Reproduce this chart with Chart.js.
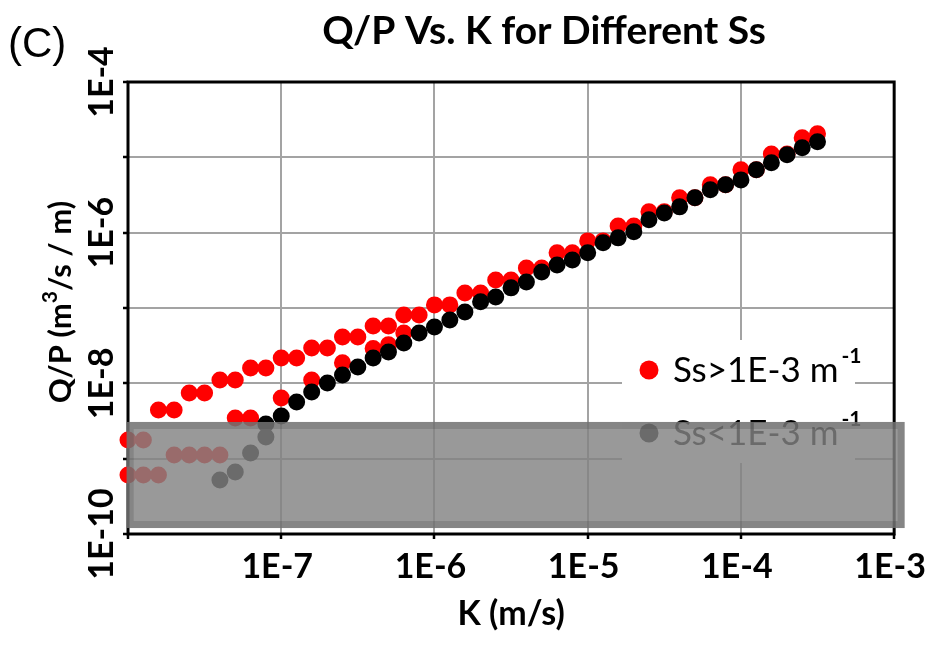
<!DOCTYPE html>
<html>
<head>
<meta charset="utf-8">
<script src="https://cdn.jsdelivr.net/npm/chart.js@4.4.1/dist/chart.umd.min.js"></script>
<style>
  html, body { margin: 0; padding: 0; background: #ffffff; }
  #wrap { width: 938px; height: 646px; }
</style>
</head>
<body>
<div id="wrap"><canvas id="chart" width="938" height="646"></canvas></div>
<script>
// Hydraulic conductivity K (m/s) and specific capacity Q/P (m^3/s/m)
// Ss > 1E-3 m^-1 (upper branch followed by the lower branch)
const kSsHigh = [
  1.00e-8, 1.26e-8, 1.58e-8, 2.00e-8, 2.51e-8, 3.16e-8, 3.98e-8, 5.01e-8, 6.31e-8, 7.94e-8,
  1.00e-7, 1.26e-7, 1.58e-7, 2.00e-7, 2.51e-7, 3.16e-7, 3.98e-7, 5.01e-7, 6.31e-7, 7.94e-7,
  1.00e-6, 1.26e-6, 1.58e-6, 2.00e-6, 2.51e-6, 3.16e-6, 3.98e-6, 5.01e-6, 6.31e-6, 7.94e-6,
  1.00e-5, 1.26e-5, 1.58e-5, 2.00e-5, 2.51e-5, 3.16e-5, 3.98e-5, 5.01e-5, 6.31e-5, 7.94e-5,
  1.00e-4, 1.26e-4, 1.58e-4, 2.00e-4, 2.51e-4, 3.16e-4,
  1.00e-8, 1.26e-8, 1.58e-8, 2.00e-8, 2.51e-8, 3.16e-8, 3.98e-8, 5.01e-8, 6.31e-8,
  1.00e-7, 1.58e-7, 2.51e-7, 3.98e-7, 5.01e-7, 6.31e-7
];
const qSsHigh = [
  1.77e-9, 1.77e-9, 4.43e-9, 4.43e-9, 7.46e-9, 7.46e-9, 1.11e-8, 1.11e-8, 1.60e-8, 1.60e-8,
  2.17e-8, 2.17e-8, 2.95e-8, 2.95e-8, 4.13e-8, 4.13e-8, 5.78e-8, 5.78e-8, 8.09e-8, 8.09e-8,
  1.10e-7, 1.10e-7, 1.58e-7, 1.58e-7, 2.36e-7, 2.36e-7, 3.40e-7, 3.40e-7, 5.40e-7, 5.40e-7,
  7.78e-7, 7.78e-7, 1.23e-6, 1.23e-6, 1.89e-6, 1.89e-6, 2.90e-6, 2.90e-6, 4.32e-6, 4.32e-6,
  6.83e-6, 6.83e-6, 1.11e-5, 1.11e-5, 1.82e-5, 2.05e-5,
  6.07e-10, 6.07e-10, 6.07e-10, 1.12e-9, 1.12e-9, 1.12e-9, 1.12e-9, 3.47e-9, 3.47e-9,
  6.40e-9, 1.11e-8, 1.87e-8, 2.90e-8, 3.24e-8, 4.67e-8
];
// Ss < 1E-3 m^-1
const kSsLow = [
  3.98e-8, 5.01e-8, 6.31e-8, 7.94e-8, 7.94e-8,
  1.00e-7, 1.26e-7, 1.58e-7, 2.00e-7, 2.51e-7, 3.16e-7, 3.98e-7, 5.01e-7, 6.31e-7, 7.94e-7,
  1.00e-6, 1.26e-6, 1.58e-6, 2.00e-6, 2.51e-6, 3.16e-6, 3.98e-6, 5.01e-6, 6.31e-6, 7.94e-6,
  1.00e-5, 1.26e-5, 1.58e-5, 2.00e-5, 2.51e-5, 3.16e-5, 3.98e-5, 5.01e-5, 6.31e-5, 7.94e-5,
  1.00e-4, 1.26e-4, 1.58e-4, 2.00e-4, 2.51e-4, 3.16e-4
];
const qSsLow = [
  5.21e-10, 6.66e-10, 1.19e-9, 1.94e-9, 2.89e-9,
  3.69e-9, 5.66e-9, 7.69e-9, 1.01e-8, 1.29e-8, 1.65e-8, 2.17e-8, 2.61e-8, 3.44e-8, 4.67e-8,
  5.61e-8, 6.95e-8, 8.87e-8, 1.21e-7, 1.40e-7, 1.85e-7, 2.22e-7, 3.01e-7, 3.73e-7, 4.35e-7,
  5.40e-7, 7.33e-7, 8.53e-7, 1.03e-6, 1.48e-6, 1.83e-6, 2.20e-6, 2.90e-6, 3.70e-6, 4.32e-6,
  5.02e-6, 6.83e-6, 8.45e-6, 1.08e-5, 1.34e-5, 1.61e-5
];

// Axis decades and the labelled ones
const xTicks = [1e-8, 1e-7, 1e-6, 1e-5, 1e-4, 1e-3];
const xLabelled = [1e-7, 1e-6, 1e-5, 1e-4, 1e-3];
const yTicks = [1e-10, 1e-9, 1e-8, 1e-7, 1e-6, 1e-5, 1e-4];
const yLabelled = [1e-10, 1e-8, 1e-6, 1e-4];

// Shaded band (in data units) below the reliable range of Q/P
const bandK = [0.98e-8, 1.17e-3];
const bandQ = [1.2e-10, 3.07e-9];

const legendItems = [
  { text: 'Ss>1E-3 m', sup: '-1', color: '#ff0000' },
  { text: 'Ss<1E-3 m', sup: '-1', color: '#000000' }
];

const FONT = 'Lato, "Open Sans", sans-serif';
const sciLabel = v => '1E' + Math.round(Math.log10(v));
const toPoints = (xs, ys) => xs.map((x, i) => ({ x: x, y: ys[i] }));

function drawParts(ctx, parts, x, y, align) {
  // parts: [{t, font, dy, gap}] drawn along one baseline
  let total = 0;
  parts.forEach(p => { ctx.font = p.font; total += ctx.measureText(p.t).width + (p.gap || 0); });
  let cx = align === 'center' ? x - total / 2 : x;
  ctx.textAlign = 'left';
  ctx.textBaseline = 'alphabetic';
  parts.forEach(p => {
    ctx.font = p.font;
    cx += (p.gap || 0);
    ctx.fillText(p.t, cx, y + (p.dy || 0));
    cx += ctx.measureText(p.t).width;
  });
}

const decorations = {
  id: 'decorations',
  beforeDatasetsDraw(chart) {
    const { ctx, chartArea: a } = chart;
    ctx.save();
    ctx.strokeStyle = '#000';
    ctx.lineWidth = 3;
    ctx.strokeRect(a.left, a.top, a.right - a.left, a.bottom - a.top);
    ctx.restore();
  },
  afterDatasetsDraw(chart) {
    const { ctx, chartArea: a, scales } = chart;
    const ys = scales.y;
    ctx.save();
    ctx.fillStyle = '#000';

    // chart title and panel letter
    ctx.font = 'bold 39px ' + FONT;
    ctx.textAlign = 'center';
    ctx.textBaseline = 'alphabetic';
    ctx.fillText('Q/P Vs. K for Different Ss', 544, 44);
    ctx.font = '42px "Liberation Sans", Arial, sans-serif';
    ctx.textAlign = 'left';
    ctx.fillText('(C)', 8, 57);

    // rotated y tick labels
    yLabelled.forEach(v => {
      const py = ys.getPixelForValue(v);
      ctx.save();
      ctx.translate(a.left - 15, py);
      ctx.rotate(-Math.PI / 2);
      ctx.font = 'bold 34px ' + FONT;
      ctx.textAlign = 'center';
      ctx.textBaseline = 'alphabetic';
      ctx.fillText(sciLabel(v), 0, 0);
      ctx.restore();
    });

    // y axis title with superscript
    ctx.save();
    ctx.translate(71, 302);
    ctx.rotate(-Math.PI / 2);
    drawParts(ctx, [
      { t: 'Q/P (m', font: 'bold 31px ' + FONT },
      { t: '3', font: 'bold 21px ' + FONT, dy: -14 },
      { t: '/s / m)', font: 'bold 31px ' + FONT }
    ], 0, 0, 'center');
    ctx.restore();

    // legend
    const lx = a.left + 494, ly = a.top + 258;
    ctx.fillStyle = '#ffffff';
    ctx.fillRect(lx, ly, 233, 123);
    legendItems.forEach((it, i) => {
      const cy = ly + 30 + i * 63;
      ctx.fillStyle = it.color;
      ctx.beginPath();
      ctx.arc(lx + 27, cy, 9.5, 0, Math.PI * 2);
      ctx.fill();
      ctx.fillStyle = '#000';
      drawParts(ctx, [
        { t: it.text, font: '35px ' + FONT },
        { t: it.sup, font: 'bold 21px ' + FONT, dy: -19, gap: 3 }
      ], lx + 51, cy + 12, 'left');
    });
    ctx.restore();
  },
  afterDraw(chart) {
    const { ctx, scales } = chart;
    const x0 = scales.x.getPixelForValue(bandK[0]);
    const x1 = scales.x.getPixelForValue(bandK[1]);
    const y0 = scales.y.getPixelForValue(bandQ[1]);
    const y1 = scales.y.getPixelForValue(bandQ[0]);
    ctx.save();
    ctx.fillStyle = 'rgba(130,130,130,0.82)';
    ctx.fillRect(x0, y0, x1 - x0, y1 - y0);
    ctx.strokeStyle = 'rgba(70,70,70,0.25)';
    ctx.lineWidth = 7;
    ctx.strokeRect(x0 + 3.5, y0 + 3.5, x1 - x0 - 7, y1 - y0 - 7);
    ctx.restore();
  }
};

const gridStyle = {
  color: '#a3a3a3',
  lineWidth: 2,
  tickColor: '#000000',
  tickLength: 5,
  tickWidth: 2.5,
  drawTicks: true
};

new Chart(document.getElementById('chart'), {
  type: 'scatter',
  data: {
    datasets: [
      {
        label: 'Ss<1E-3 m-1',
        data: toPoints(kSsLow, qSsLow),
        backgroundColor: '#000000',
        borderWidth: 0,
        pointRadius: 8.5,
        pointHoverRadius: 8.5,
        clip: false,
        order: 1
      },
      {
        label: 'Ss>1E-3 m-1',
        data: toPoints(kSsHigh, qSsHigh),
        backgroundColor: '#ff0000',
        borderWidth: 0,
        pointRadius: 8.5,
        pointHoverRadius: 8.5,
        clip: false,
        order: 2
      }
    ]
  },
  options: {
    responsive: false,
    animation: false,
    events: [],
    layout: { padding: { top: 82, right: 43, bottom: 0, left: 0 } },
    plugins: {
      legend: { display: false },
      title: { display: false },
      tooltip: { enabled: false }
    },
    scales: {
      x: {
        type: 'logarithmic',
        min: 1e-8,
        max: 1e-3,
        afterBuildTicks: s => { s.ticks = xTicks.map(v => ({ value: v })); },
        afterFit: s => { s.height = 112; },
        grid: gridStyle,
        border: { display: false },
        ticks: {
          maxRotation: 0,
          minRotation: 0,
          autoSkip: false,
          padding: 8,
          labelOffset: -4,
          color: '#000000',
          font: { family: FONT, size: 34, weight: 'bold' },
          callback: v => xLabelled.includes(v) ? sciLabel(v) : ''
        },
        title: {
          display: true,
          text: 'K (m/s)',
          color: '#000000',
          font: { family: FONT, size: 34, weight: 'bold' },
          padding: { top: 0, bottom: 12 }
        }
      },
      y: {
        type: 'logarithmic',
        min: 1e-10,
        max: 1e-4,
        afterBuildTicks: s => { s.ticks = yTicks.map(v => ({ value: v })); },
        afterFit: s => { s.width = 128; },
        grid: gridStyle,
        border: { display: false },
        ticks: { display: false }
      }
    }
  },
  plugins: [decorations]
});
</script>
</body>
</html>
